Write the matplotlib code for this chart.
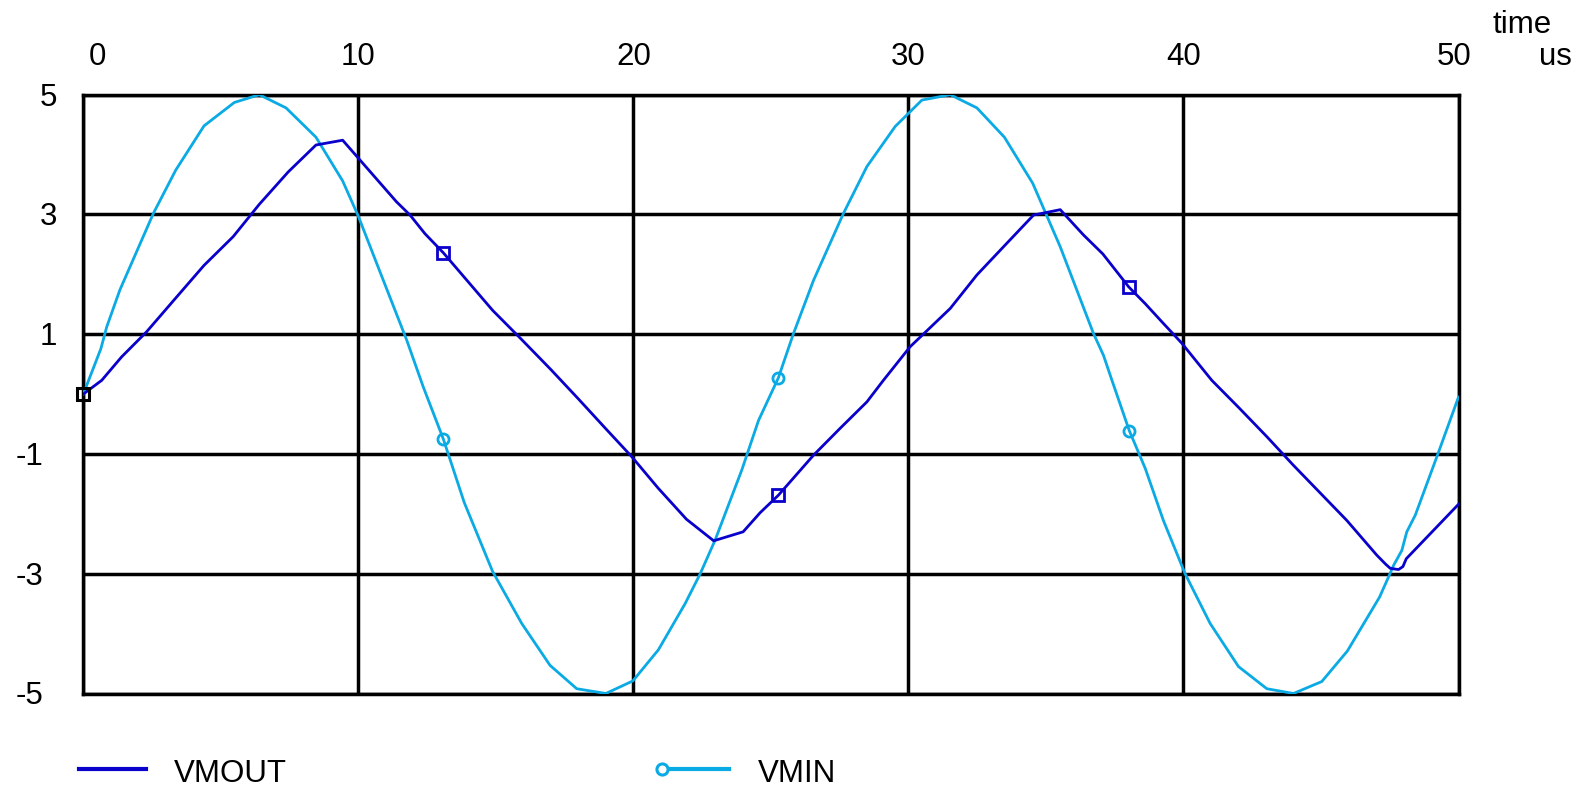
import matplotlib
matplotlib.use("Agg")
import matplotlib.pyplot as plt
from matplotlib.lines import Line2D

plt.rcParams['font.family'] = ['Liberation Sans', 'DejaVu Sans']

# ---- data ----
t_vmout = [0, 0.67, 1.39, 2.30, 3.39, 4.39, 5.45, 6.40, 7.45, 8.46, 9.43, 11.39, 11.88,
           12.42, 13.09, 14.88, 15.94, 17.0, 18.0, 18.96, 19.95, 20.9, 21.93, 22.92,
           23.99, 24.61, 25.27, 26.55, 27.52, 28.49, 29.09, 30.06, 31.52, 32.49, 33.58,
           34.55, 35.52, 36.36, 37.07, 38.01, 38.61, 39.21, 39.94, 41.03, 42.0, 43.03,
           44.0, 45.94, 47.03, 47.35, 47.52, 47.82, 47.98, 48.10, 50.0]
v_vmout = [0, 0.23, 0.62, 1.04, 1.62, 2.15, 2.63, 3.17, 3.71, 4.16, 4.24, 3.21, 2.99,
           2.68, 2.36, 1.40, 0.91, 0.41, -0.08, -0.56, -1.05, -1.57, -2.09, -2.45,
           -2.30, -1.98, -1.69, -1.02, -0.57, -0.13, 0.23, 0.79, 1.43, 1.99, 2.52,
           2.99, 3.08, 2.66, 2.34, 1.79, 1.51, 1.21, 0.85, 0.23, -0.22, -0.71,
           -1.19, -2.11, -2.69, -2.84, -2.91, -2.93, -2.88, -2.75, -1.84]

t_vmin = [0, 0.64, 0.85, 1.33, 2.55, 3.36, 4.39, 5.49, 6.40, 7.37, 8.46, 9.43, 10.0,
          10.67, 11.76, 12.36, 13.09, 13.85, 14.88, 15.94, 16.97, 17.94, 19.0, 19.98,
          20.91, 21.88, 22.43, 22.97, 23.94, 24.55, 25.27, 25.82, 26.55, 27.64, 28.49,
          29.52, 30.49, 31.52, 32.49, 33.49, 34.52, 35.52, 36.73, 37.09, 37.40, 38.03,
          38.61, 39.27, 40.06, 40.97, 42.0, 43.03, 44.0, 45.03, 45.96, 47.13, 47.46,
          47.64, 47.94, 48.12, 48.43, 49.21, 50.0]
v_vmin = [0, 0.76, 1.12, 1.74, 3.02, 3.74, 4.48, 4.87, 5.0, 4.78, 4.29, 3.56, 2.97,
          2.18, 0.90, 0.12, -0.75, -1.81, -2.96, -3.83, -4.53, -4.92, -5.0, -4.79,
          -4.27, -3.50, -3.0, -2.44, -1.27, -0.44, 0.27, 1.01, 1.90, 3.02, 3.80,
          4.47, 4.91, 5.0, 4.78, 4.29, 3.52, 2.46, 1.01, 0.65, 0.23, -0.61,
          -1.24, -2.11, -3.0, -3.83, -4.55, -4.92, -5.0, -4.80, -4.29, -3.39, -3.05,
          -2.86, -2.61, -2.30, -2.02, -1.05, -0.05]

mark_t_vmout = [13.09, 25.27, 38.01]
mark_v_vmout = [2.36, -1.69, 1.79]
mark_t_vmin = [13.09, 25.27, 38.03]
mark_v_vmin = [-0.75, 0.27, -0.61]
origin_t = [0]
origin_v = [0]

x_ticks = [0, 10, 20, 30, 40, 50]
x_labels = ["0", "10", "20", "30", "40", "50"]
y_ticks = [5, 3, 1, -1, -3, -5]
y_labels = ["5", "3", "1", "-1", "-3", "-5"]
series_names = ["VMOUT", "VMIN"]

C_OUT = '#0A00CC'
C_IN = '#0AAAE4'

W, H = 1585, 788
fig = plt.figure(figsize=(W / 100, H / 100), dpi=100)
L, R, T, B = 83.3, 1458.5, 94.7, 693.5
ax = fig.add_axes([L / W, 1 - B / H, (R - L) / W, (B - T) / H])
ax.set_xlim(0, 50)
ax.set_ylim(-5, 5)
ax.set_xticks(x_ticks)
ax.set_yticks(y_ticks)
ax.tick_params(length=0, labelbottom=False, labelleft=False)
ax.grid(True, color='black', lw=2.5, zorder=1)
for s in ax.spines.values():
    s.set_color('black')
    s.set_linewidth(2.5)
    s.set_zorder(1)

ax.plot(t_vmin, v_vmin, color=C_IN, lw=2.0, zorder=3)
ax.plot(t_vmout, v_vmout, color=C_OUT, lw=2.0, zorder=4)
ax.plot(mark_t_vmout, mark_v_vmout, 's', mfc='none', mec=C_OUT, ms=8.5, mew=2.0, zorder=5)
ax.plot(mark_t_vmin, mark_v_vmin, 'o', mfc='none', mec=C_IN, ms=8, mew=2.0, zorder=5)
ax.plot(origin_t, origin_v, 's', mfc='none', mec='black', ms=8.5, mew=2.2, zorder=6, clip_on=False)

FS = 22.5
# x tick labels along the top
x_px_shift = {0: 14, 50: -4}
for tk, lab in zip(x_ticks, x_labels):
    dx = x_px_shift.get(tk, 0)
    x_fig = ax.transData.transform((tk, 0))[0] + dx
    fig.text(x_fig / W, 1 - 65 / H, lab, ha='center', va='baseline', fontsize=FS)

# y tick labels
for tk, lab in zip(y_ticks, y_labels):
    y_px = ax.transData.transform((0, tk))[1]
    x_left = 16 if lab.startswith('-') else 40
    fig.text(x_left / W, (y_px - 11) / H, lab, ha='left', va='baseline', fontsize=FS)

fig.text(1522 / W, 1 - 33 / H, "time", ha='center', va='baseline', fontsize=FS)
fig.text(1555 / W, 1 - 65 / H, "us", ha='center', va='baseline', fontsize=FS)

# legend
ly = 1 - 769 / H
fig.add_artist(Line2D([79 / W, 146 / W], [ly, ly], color=C_OUT, lw=3.0, transform=fig.transFigure))
fig.text(174 / W, 1 - 782 / H, series_names[0], ha='left', va='baseline', fontsize=FS)
fig.add_artist(Line2D([662 / W, 729 / W], [ly, ly], color=C_IN, lw=3.0, transform=fig.transFigure))
fig.add_artist(Line2D([662 / W], [ly], marker='o', mfc='white', mec=C_IN, ms=8, mew=2.2,
                      transform=fig.transFigure))
fig.text(758 / W, 1 - 782 / H, series_names[1], ha='left', va='baseline', fontsize=FS)

fig.savefig("out.png", dpi=100)
